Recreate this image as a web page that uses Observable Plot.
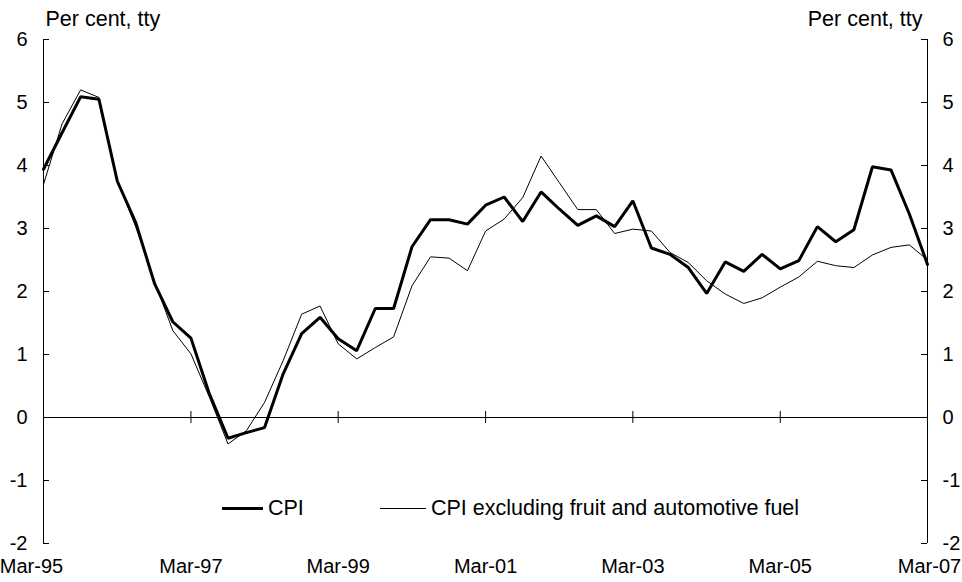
<!DOCTYPE html>
<html><head><meta charset="utf-8">
<script src="https://cdn.jsdelivr.net/npm/d3@7"></script>
<script src="https://cdn.jsdelivr.net/npm/@observablehq/plot@0.6"></script>
<style>
html,body{margin:0;padding:0;background:#fff;}
#wrap{position:relative;width:962px;height:582px;font-family:"Liberation Sans",Arial,sans-serif;color:#000;}
.leg{position:absolute;font-size:21.5px;line-height:22px;white-space:nowrap;}
.sw{position:absolute;background:#000;}
</style>
</head><body>
<div id="wrap"></div>
<script>
const quarters = ["1995-03","1995-06","1995-09","1995-12","1996-03","1996-06","1996-09","1996-12",
"1997-03","1997-06","1997-09","1997-12","1998-03","1998-06","1998-09","1998-12",
"1999-03","1999-06","1999-09","1999-12","2000-03","2000-06","2000-09","2000-12",
"2001-03","2001-06","2001-09","2001-12","2002-03","2002-06","2002-09","2002-12",
"2003-03","2003-06","2003-09","2003-12","2004-03","2004-06","2004-09","2004-12",
"2005-03","2005-06","2005-09","2005-12","2006-03","2006-06","2006-09","2006-12","2007-03"];
const cpi = [3.94,4.52,5.09,5.05,3.75,3.09,2.13,1.52,1.26,0.37,-0.33,-0.24,-0.16,0.69,1.33,1.59,
1.25,1.06,1.73,1.73,2.71,3.14,3.14,3.07,3.37,3.50,3.11,3.58,3.31,3.05,3.20,3.03,
3.44,2.69,2.59,2.38,1.97,2.47,2.32,2.59,2.36,2.49,3.03,2.79,2.98,3.98,3.93,3.23,2.43];
const cpiExcl = [3.70,4.66,5.20,5.08,3.77,3.02,2.17,1.38,1.01,0.32,-0.42,-0.21,0.24,0.90,1.64,1.77,
1.17,0.93,1.11,1.28,2.09,2.55,2.53,2.33,2.96,3.15,3.49,4.15,3.73,3.30,3.30,2.92,
2.99,2.96,2.62,2.46,2.17,1.96,1.81,1.90,2.07,2.23,2.48,2.41,2.38,2.58,2.70,2.74,2.50];
const seriesNames = ["CPI","CPI excluding fruit and automotive fuel"];
const xTickLabels = ["Mar-95","Mar-97","Mar-99","Mar-01","Mar-03","Mar-05","Mar-07"];
const xTickQuarters = ["1995-03","1997-03","1999-03","2001-03","2003-03","2005-03","2007-03"];
const yTicks = [-2,-1,0,1,2,3,4,5,6];
const unitLabel = "Per cent, tty";

const parse = d3.utcParse("%Y-%m");
const data = quarters.map((q,i)=>({date:parse(q), cpi:cpi[i], excl:cpiExcl[i]}));
const xt = xTickQuarters.map((q,i)=>({date:parse(q), label:xTickLabels[i]}));
const xmin = parse(quarters[0]), xmax = parse(quarters[quarters.length-1]);
const ymin = -2, ymax = 6;

const chart = Plot.plot({
  width: 962, height: 582,
  marginLeft: 43, marginRight: 35, marginTop: 39, marginBottom: 39,
  style: {fontFamily: '"Liberation Sans", Arial, sans-serif', fontSize: "20px", background: "#fff", color: "#000"},
  x: {type: "utc", domain: [xmin, xmax], axis: null},
  y: {domain: [ymin, ymax], axis: null},
  marks: [
    Plot.ruleX([xmin, xmax], {y1: ymin, y2: ymax, stroke: "#000", strokeWidth: 1}),
    Plot.ruleY([0], {x1: xmin, x2: xmax, stroke: "#000", strokeWidth: 1}),
    Plot.ruleY(yTicks, {x1: xmin, x2: xmin, insetRight: -6, stroke: "#000"}),
    Plot.ruleY(yTicks, {x1: xmax, x2: xmax, insetLeft: -6, stroke: "#000"}),
    Plot.ruleX(xt, {x: "date", y1: 0, y2: 0, insetTop: -6, insetBottom: -6, stroke: "#000"}),
    Plot.text(yTicks, {x: xmin, y: d=>d, text: d=>String(d), textAnchor: "end", dx: -16, fontSize: 20}),
    Plot.text(yTicks, {x: xmax, y: d=>d, text: d=>String(d), textAnchor: "start", dx: 15, fontSize: 20}),
    Plot.text(xt.slice(0,1), {x: "date", y: ymin, text: "label", dy: 23, dx: -12, fontSize: 20}),
    Plot.text(xt.slice(1,-1), {x: "date", y: ymin, text: "label", dy: 23, fontSize: 20}),
    Plot.text(xt.slice(-1), {x: "date", y: ymin, text: "label", dy: 23, dx: 2, fontSize: 20}),
    Plot.text([unitLabel], {x: xmin, y: ymax, text: d=>d, textAnchor: "start", dx: 2, dy: -20, fontSize: 21.5}),
    Plot.text([unitLabel], {x: xmax, y: ymax, text: d=>d, textAnchor: "end", dx: -5, dy: -20, fontSize: 21.5}),
    Plot.line(data, {x: "date", y: "excl", stroke: "#000", strokeWidth: 1}),
    Plot.line(data, {x: "date", y: "cpi", stroke: "#000", strokeWidth: 3, strokeLinejoin: "miter"})
  ]
});
const wrap = document.getElementById("wrap");
wrap.appendChild(chart);

// legend overlay
function addLeg(x, w, thick, text){
  const s = document.createElement("div"); s.className="sw";
  s.style.left = x+"px"; s.style.width = w+"px"; s.style.top = (508 - thick/2)+"px"; s.style.height = thick+"px";
  wrap.appendChild(s);
  const t = document.createElement("div"); t.className="leg";
  t.style.left = (x+w+5)+"px"; t.style.top = "497px"; t.textContent = text;
  wrap.appendChild(t);
}
addLeg(222, 41, 3, seriesNames[0]);
addLeg(380, 46, 1, seriesNames[1]);
</script>
</body></html>
